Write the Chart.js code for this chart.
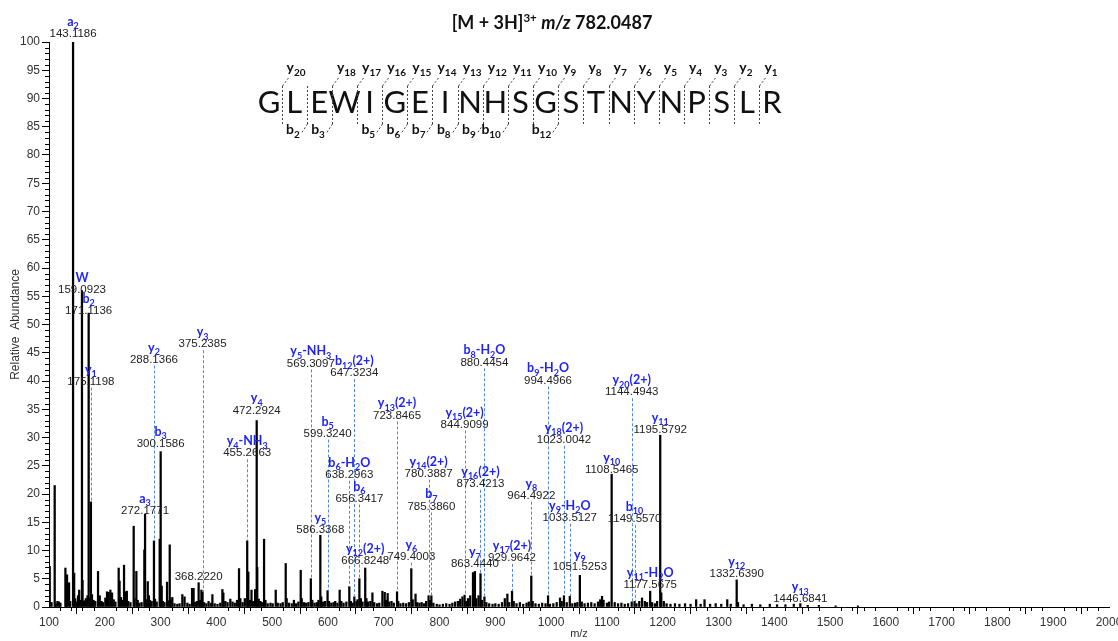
<!DOCTYPE html>
<html>
<head>
<meta charset="utf-8">
<script src="https://cdn.jsdelivr.net/npm/chart.js@4.4.1/dist/chart.umd.min.js"></script>
<style>
    html, body { margin: 0; padding: 0; background: #fff; }
    #wrap { width: 1118px; height: 641px; }
</style>
</head>
<body>
<div id="wrap"><canvas id="spectrum" width="1118" height="641"></canvas></div>
<script>
// MS/MS spectrum, peaks (m/z, relative abundance %)
const peakMz = [
    101.3, 104.5, 110.2, 112.0, 115.1, 118.0, 120.5, 129.4, 130.5, 132.3, 135.9, 138.0,
    143.12, 145.1, 147.0, 150.0, 152.0, 154.1, 157.0, 159.09, 160.1, 163.0, 166.0, 169.0,
    171.11, 173.0, 175.12, 177.0, 180.0, 183.0, 187.9, 191.0, 194.0, 197.0, 201.0, 204.0,
    207.0, 210.0, 213.0, 216.0, 219.0, 224.9, 226.5, 229.0, 232.0, 234.5, 237.0, 239.5,
    242.0, 246.0, 251.8, 253.0, 256.6, 259.0, 262.0, 266.0, 270.9, 272.18, 274.0, 277.0,
    279.0, 281.0, 284.0, 288.14, 290.0, 293.0, 298.4, 300.16, 302.0, 304.0, 307.0, 311.6,
    314.0, 316.4, 318.0, 321.0, 325.0, 330.0, 334.0, 339.0, 343.0, 348.0, 352.0, 356.4,
    359.2, 362.0, 365.0, 368.22, 371.0, 373.2, 375.24, 378.0, 382.0, 386.0, 390.0, 392.9,
    397.0, 402.0, 407.0, 410.8, 412.5, 416.0, 420.0, 425.0, 429.0, 433.0, 437.0, 440.6,
    443.0, 447.0, 451.0, 455.27, 457.3, 460.0, 463.0, 466.0, 469.5, 472.29, 473.3, 476.0,
    479.0, 482.0, 485.5, 488.0, 492.0, 497.0, 501.0, 506.4, 510.0, 515.0, 519.0, 524.3,
    526.0, 530.0, 535.0, 539.0, 543.0, 547.0, 551.2, 553.0, 557.0, 561.0, 565.0, 569.31,
    572.0, 576.0, 580.0, 583.0, 586.34, 588.0, 591.0, 595.0, 599.32, 602.0, 606.0, 610.0,
    613.0, 617.0, 621.0, 624.0, 628.0, 633.0, 638.30, 641.0, 644.0, 647.32, 651.0, 653.0,
    656.34, 659.0, 662.0, 666.82, 669.0, 672.0, 676.0, 679.7, 683.0, 688.0, 692.0, 697.6,
    701.7, 704.0, 707.0, 710.0, 714.0, 718.0, 723.85, 726.0, 730.0, 735.0, 740.0, 745.0,
    749.40, 752.0, 757.0, 760.0, 764.0, 768.0, 772.0, 776.0, 780.39, 783.0, 785.39, 789.0,
    795.0, 800.0, 806.0, 812.0, 818.0, 823.0, 828.0, 833.0, 837.0, 841.0, 844.91, 848.0,
    851.0, 855.0, 860.0, 863.44, 866.0, 870.0, 873.42, 876.0, 880.45, 884.0, 889.0, 895.0,
    900.0, 906.0, 912.0, 917.0, 921.6, 925.0, 929.96, 933.0, 938.0, 944.0, 950.0, 956.0,
    960.0, 964.49, 967.0, 972.0, 978.0, 984.0, 990.0, 994.50, 998.0, 1004.0, 1010.0, 1016.0,
    1019.0, 1023.00, 1028.0, 1033.51, 1038.0, 1043.0, 1047.0, 1051.53, 1055.0, 1060.0, 1066.0, 1072.0,
    1078.0, 1084.0, 1088.0, 1091.3, 1094.0, 1100.0, 1104.0, 1108.55, 1114.0, 1120.0, 1126.0, 1132.0,
    1138.0, 1144.49, 1149.56, 1153.0, 1158.0, 1163.0, 1168.0, 1172.0, 1177.57, 1181.0, 1186.0, 1190.0,
    1195.58, 1197.5, 1202.0, 1207.0, 1214.0, 1222.0, 1230.0, 1240.0, 1250.0, 1260.0, 1268.0, 1275.0,
    1285.0, 1295.0, 1305.0, 1315.7, 1322.0, 1332.64, 1335.0, 1345.0, 1360.0, 1375.0, 1392.0, 1405.0,
    1420.0, 1435.0, 1446.68, 1460.0, 1480.0, 1510.0, 1550.0
];
const peakInt = [
    7.2, 0.8, 21.5, 0.6, 1.0, 0.9, 0.7, 6.9, 1.2, 5.7, 4.3, 1.0,
    100, 6.0, 1.5, 0.9, 2.0, 3.0, 1.2, 56.0, 4.7, 1.1, 1.5, 2.0,
    52.0, 1.5, 18.6, 2.2, 1.2, 1.0, 6.3, 2.0, 1.0, 0.8, 1.6, 2.7,
    2.6, 3.0, 2.5, 1.3, 0.9, 6.9, 4.6, 1.7, 1.2, 7.4, 2.7, 2.8,
    1.0, 0.8, 14.3, 1.5, 6.3, 1.2, 0.7, 0.8, 10.1, 16.4, 1.3, 4.5,
    2.0, 1.2, 1.0, 11.7, 1.4, 0.9, 12.0, 27.5, 3.7, 1.0, 0.8, 4.4,
    1.1, 11.0, 1.3, 1.7, 0.6, 0.5, 0.6, 2.2, 1.8, 0.7, 0.5, 3.3,
    3.3, 0.8, 1.0, 4.3, 1.2, 3.0, 2.6, 0.8, 0.6, 1.0, 0.7, 2.2,
    0.6, 0.5, 0.7, 3.1, 2.5, 1.0, 0.8, 1.4, 0.9, 0.7, 1.2, 6.8,
    1.5, 0.8, 1.5, 11.7, 6.2, 1.2, 3.0, 1.0, 3.1, 33.0, 7.0, 1.4,
    1.0, 0.8, 12.0, 1.2, 0.6, 0.7, 0.6, 3.0, 0.7, 0.6, 0.8, 7.7,
    1.5, 0.7, 0.6, 1.2, 0.6, 0.9, 6.5, 1.5, 0.8, 0.7, 0.8, 5.0,
    1.2, 0.7, 0.8, 1.2, 12.7, 1.8, 0.9, 1.0, 2.9, 1.0, 0.7, 0.8,
    1.0, 0.7, 3.0, 1.0, 0.7, 0.9, 3.6, 1.0, 0.7, 1.8, 1.0, 1.3,
    5.0, 1.5, 0.9, 6.9, 1.5, 0.9, 1.0, 2.5, 0.8, 0.6, 0.7, 2.8,
    2.6, 1.2, 2.4, 0.9, 1.0, 0.7, 2.7, 1.0, 0.6, 0.7, 0.6, 0.8,
    6.8, 1.3, 2.3, 0.8, 0.7, 0.8, 0.6, 1.0, 2.0, 1.2, 2.0, 0.7,
    0.5, 0.4, 0.5, 0.6, 0.5, 0.7, 0.9, 1.0, 1.4, 1.8, 2.1, 1.0,
    1.5, 2.0, 6.1, 6.3, 1.5, 2.0, 5.9, 1.2, 1.8, 0.8, 0.6, 0.5,
    0.6, 0.5, 0.8, 1.5, 2.3, 0.8, 2.8, 1.0, 0.6, 0.8, 0.5, 0.7,
    0.9, 5.5, 1.0, 0.6, 0.5, 0.7, 0.6, 2.0, 0.5, 0.6, 0.8, 1.6,
    1.0, 2.0, 0.8, 1.9, 0.6, 0.7, 0.8, 5.6, 0.9, 0.6, 0.7, 0.8,
    0.6, 0.9, 1.3, 1.9, 1.2, 0.7, 0.9, 23.5, 0.8, 0.6, 0.7, 0.5,
    0.6, 0.9, 1.0, 0.6, 1.0, 1.6, 1.0, 0.8, 2.8, 0.8, 0.6, 1.0,
    30.4, 2.5, 1.0, 0.6, 0.5, 0.6, 0.5, 0.6, 0.5, 1.3, 0.5, 1.3,
    0.5, 0.6, 0.5, 1.3, 0.5, 4.8, 0.8, 0.4, 0.5, 0.4, 0.5, 0.4,
    0.4, 0.5, 0.6, 0.3, 0.3, 0.2, 0.2
];

// annotated fragment ions: name ("_n" = subscript), m/z, label level (%)
const ionNames = [
    'a_2', 'W', 'b_2', 'y_1', 'y_2', 'b_3', 'a_3', '', 'y_3', 'y_4', 'y_4-NH_3',
    'y_5-NH_3', 'b_5', 'b_12(2+)', 'b_6-H_2O', 'b_6', 'y_5', 'y_12(2+)', 'y_13(2+)', 'y_6',
    'y_14(2+)', 'b_7', 'b_8-H_2O', 'y_15(2+)', 'y_16(2+)', 'y_7', 'y_17(2+)', 'y_8',
    'b_9-H_2O', 'y_18(2+)', 'y_9-H_2O', 'y_9', 'y_20(2+)', 'y_11', 'y_10', 'b_10',
    'y_11-H_2O', 'y_12', 'y_13'
];
const ionMz = [
    143.1186, 159.0923, 171.1136, 175.1198, 288.1366, 300.1586, 272.1771, 368.2220, 375.2385, 472.2924, 455.2663,
    569.3097, 599.3240, 647.3234, 638.2963, 656.3417, 586.3368, 666.8248, 723.8465, 749.4003,
    780.3887, 785.3860, 880.4454, 844.9099, 873.4213, 863.4440, 929.9642, 964.4922,
    994.4966, 1023.0042, 1033.5127, 1051.5253, 1144.4943, 1195.5792, 1108.5465, 1149.5570,
    1177.5675, 1332.6390, 1446.6841
];
const ionLevel = [
    101.5, 56.1, 52.4, 39.9, 43.8, 28.9, 17.0, 5.4, 46.5, 34.8, 27.2,
    43.1, 30.7, 41.4, 23.4, 19.2, 13.7, 8.2, 33.9, 8.9,
    23.6, 17.8, 43.3, 32.3, 21.8, 7.6, 8.7, 19.7,
    40.1, 29.6, 15.8, 7.1, 38.0, 31.4, 24.3, 15.6,
    3.9, 5.9, 1.4
];

// peptide and its observed fragment cleavages
const residues = 'GLEWIGEINHSGSTNYNPSLR'.split('');
const yIons = [20, 18, 17, 16, 15, 14, 13, 12, 11, 10, 9, 8, 7, 6, 5, 4, 3, 2, 1];
const bIons = [2, 3, 5, 6, 7, 8, 9, 10, 12];

const xTicks = { min: 100, max: 2000, step: 100, minor: 20 };
const yTicks = { min: 0, max: 100, step: 5, minor: 1 };

const ION_BLUE = '#1f24f5';
const LINE_BLUE = '#4f86e3';

// draws "y_13(2+)" style text, _digits become subscripts
function drawRich(ctx, str, x, y, size, weight, color, align, subRatio) {
    const parts = [];
    str.split(/(_\d+)/).forEach(p => {
        if (!p) return;
        if (p[0] === '_') parts.push({ t: p.slice(1), sub: true });
        else parts.push({ t: p, sub: false });
    });
    const subSize = Math.round(size * (subRatio || 0.68));
    let total = 0;
    parts.forEach(p => {
        ctx.font = `${weight} ${p.sub ? subSize : size}px Lato, "Open Sans", sans-serif`;
        p.w = ctx.measureText(p.t).width;
        total += p.w;
    });
    let cx = align === 'center' ? x - total / 2 : align === 'right' ? x - total : x;
    ctx.fillStyle = color;
    ctx.textAlign = 'left';
    ctx.textBaseline = 'alphabetic';
    parts.forEach(p => {
        ctx.font = `${weight} ${p.sub ? subSize : size}px Lato, "Open Sans", sans-serif`;
        ctx.fillText(p.t, cx, p.sub ? y + size * 0.28 : y);
        cx += p.w;
    });
    return total;
}

function peakTopAt(mz) {
    let best = -1, bestD = 1.2;
    peakMz.forEach((m, i) => {
        const d = Math.abs(m - mz);
        if (d < bestD) { bestD = d; best = i; }
    });
    return best >= 0 ? peakInt[best] : 0;
}

const minorTicks = {
    id: 'minorTicks',
    afterDraw(chart) {
        const { ctx, chartArea, scales } = chart;
        ctx.save();
        ctx.strokeStyle = '#000';
        ctx.lineWidth = 1;
        ctx.beginPath();
        for (let v = xTicks.min; v <= xTicks.max; v += xTicks.minor) {
            if (v % xTicks.step === 0) continue;
            const px = Math.round(scales.x.getPixelForValue(v)) + 0.5;
            ctx.moveTo(px, chartArea.bottom);
            ctx.lineTo(px, chartArea.bottom + 4);
        }
        for (let v = yTicks.min; v <= yTicks.max; v += yTicks.minor) {
            if (v % yTicks.step === 0) continue;
            const py = Math.round(scales.y.getPixelForValue(v)) + 0.5;
            ctx.moveTo(chartArea.left - 4, py);
            ctx.lineTo(chartArea.left, py);
        }
        ctx.stroke();
        ctx.restore();
    }
};

const ionLabels = {
    id: 'ionLabels',
    afterDatasetsDraw(chart) {
        const { ctx, scales } = chart;
        ctx.save();
        ionNames.forEach((name, i) => {
            const px = scales.x.getPixelForValue(ionMz[i]);
            const ty = scales.y.getPixelForValue(ionLevel[i]);
            const top = scales.y.getPixelForValue(peakTopAt(ionMz[i]));
            const start = ty + 6;
            if (top - start > 5) {
                ctx.strokeStyle = LINE_BLUE;
                ctx.lineWidth = 1;
                ctx.setLineDash([3, 2]);
                ctx.beginPath();
                ctx.moveTo(Math.round(px) + 0.5, start);
                ctx.lineTo(Math.round(px) + 0.5, top);
                ctx.stroke();
                ctx.setLineDash([]);
            }
            ctx.font = '11.5px "Liberation Sans", Arial, sans-serif';
            ctx.fillStyle = '#222';
            ctx.textAlign = 'center';
            ctx.textBaseline = 'middle';
            ctx.fillText(ionMz[i].toFixed(4), px, ty);
            if (name) drawRich(ctx, name, px, ty - 8, 12.5, 'bold', ION_BLUE, 'center');
        });
        ctx.restore();
    }
};

const sequenceMap = {
    id: 'sequenceMap',
    afterDraw(chart) {
        const ctx = chart.ctx;
        ctx.save();

        // precursor title
        const ty = 29;
        const pieces = [
            { t: '[M + 3H]', f: 'bold 18px Lato, sans-serif', dy: 0 },
            { t: '3+', f: 'bold 11.5px Lato, sans-serif', dy: -7 },
            { t: ' ', f: 'bold 18px Lato, sans-serif', dy: 0 },
            { t: 'm/z', f: 'italic bold 18px Lato, sans-serif', dy: 0 },
            { t: ' 782.0487', f: 'bold 18px Lato, sans-serif', dy: 0 }
        ];
        let tw = 0;
        pieces.forEach(p => { ctx.font = p.f; p.w = ctx.measureText(p.t).width; tw += p.w; });
        let tx = 552 - tw / 2;
        ctx.fillStyle = '#111';
        ctx.textBaseline = 'alphabetic';
        ctx.textAlign = 'left';
        pieces.forEach(p => { ctx.font = p.f; ctx.fillText(p.t, tx, ty + p.dy); tx += p.w; });

        // residues on an even pitch, cleavage marks between them
        const first = 269, last = 772, base = 113;
        const pitch = (last - first) / (residues.length - 1);
        ctx.font = '31px Lato, sans-serif';
        ctx.textAlign = 'center';
        residues.forEach((r, i) => ctx.fillText(r, first + i * pitch, base));

        const sepX = k => first + (k - 0.5) * pitch;
        const cuts = new Set();
        yIons.forEach(n => cuts.add(residues.length - n));
        bIons.forEach(n => cuts.add(n));

        ctx.strokeStyle = '#444';
        ctx.lineWidth = 1;
        ctx.setLineDash([2, 2]);
        ctx.beginPath();
        cuts.forEach(k => {
            const sx = Math.round(sepX(k)) + 0.5;
            ctx.moveTo(sx, 86);
            ctx.lineTo(sx, 124);
        });
        yIons.forEach(n => {
            const sx = Math.round(sepX(residues.length - n)) + 0.5;
            ctx.moveTo(sx, 86);
            ctx.lineTo(sx + 6, 78);
        });
        bIons.forEach(n => {
            const sx = Math.round(sepX(n)) + 0.5;
            ctx.moveTo(sx, 124);
            ctx.lineTo(sx - 6, 133);
        });
        ctx.stroke();
        ctx.setLineDash([]);

        yIons.forEach(n => {
            drawRich(ctx, 'y_' + n, sepX(residues.length - n) + 5, 72, 14, 'bold', '#111', 'left', 0.72);
        });
        bIons.forEach(n => {
            drawRich(ctx, 'b_' + n, sepX(n) - 7, 134, 14, 'bold', '#111', 'right', 0.72);
        });
        ctx.restore();
    }
};

const tickFont = { family: '"Liberation Sans", Arial, sans-serif', size: 12 };

new Chart(document.getElementById('spectrum').getContext('2d'), {
    type: 'bar',
    data: {
        datasets: [{
            data: peakMz.map((m, i) => ({ x: m, y: peakInt[i] })),
            backgroundColor: '#000',
            borderWidth: 0,
            barThickness: 1.6
        }]
    },
    options: {
        responsive: false,
        animation: false,
        devicePixelRatio: 1,
        layout: { padding: { top: 42, right: 9, left: 0, bottom: 0 }, autoPadding: false },
        plugins: { legend: { display: false }, tooltip: { enabled: false } },
        scales: {
            x: {
                type: 'linear',
                min: xTicks.min,
                max: xTicks.max,
                offset: false,
                grid: { drawOnChartArea: false, tickLength: 7, tickColor: '#000' },
                border: { color: '#000', width: 1 },
                ticks: { stepSize: xTicks.step, autoSkip: false, maxRotation: 0, color: '#333', font: tickFont, padding: 1, callback: v => String(v) },
                title: { display: true, text: 'm/z', color: '#333', font: { family: tickFont.family, size: 11 }, padding: { top: 0, bottom: 0 } },
                afterFit: s => { s.height = 34; s.paddingLeft = 0; s.paddingRight = 0; }
            },
            y: {
                min: yTicks.min,
                max: yTicks.max,
                grid: { drawOnChartArea: false, tickLength: 7, tickColor: '#000' },
                border: { color: '#000', width: 1 },
                ticks: { stepSize: yTicks.step, autoSkip: false, color: '#333', font: tickFont, padding: 2 },
                title: { display: true, text: 'Relative  Abundance', color: '#333', font: { family: tickFont.family, size: 12 }, padding: { top: 8, bottom: 0 } },
                afterFit: s => { s.width = 49; s.paddingTop = 0; s.paddingBottom = 0; }
            }
        }
    },
    plugins: [minorTicks, ionLabels, sequenceMap]
});
</script>
</body>
</html>
